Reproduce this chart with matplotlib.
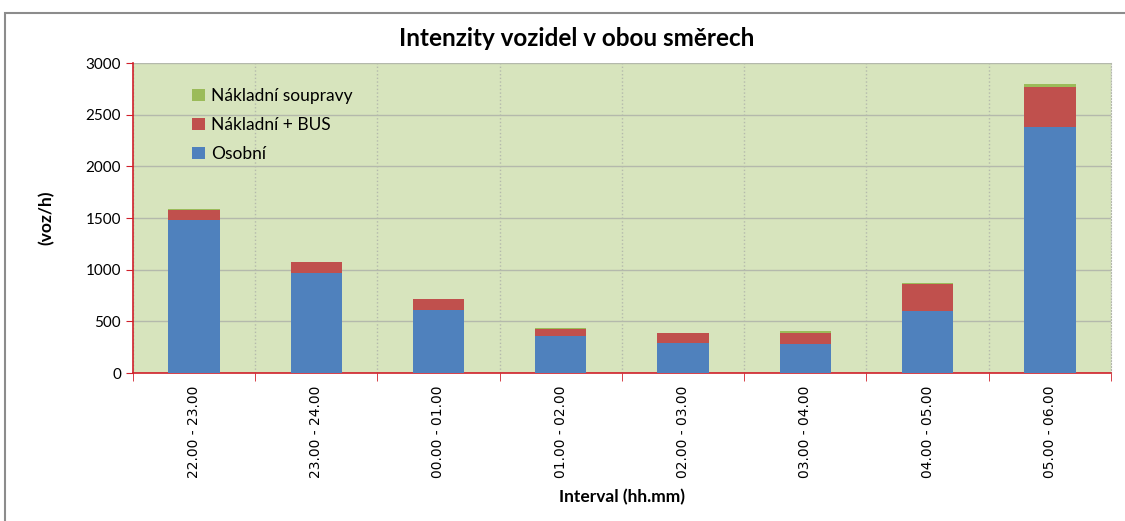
import matplotlib.pyplot as plt
import numpy as np
from matplotlib.patches import Rectangle

# data
intervaly = ['22.00 - 23.00', '23.00 - 24.00', '00.00 - 01.00', '01.00 - 02.00',
             '02.00 - 03.00', '03.00 - 04.00', '04.00 - 05.00', '05.00 - 06.00']
osobni = [1480, 968, 610, 361, 287, 278, 600, 2384]
nakladni_bus = [95, 106, 106, 65, 97, 106, 258, 381]
soupravy = [8, 5, 5, 7, 5, 19, 13, 32]

c_osobni = '#4F81BD'
c_bus = '#C0504D'
c_soupravy = '#9BBB59'
c_osa = '#D0202A'
c_mrizka = '#B4B9AC'

plt.rcParams['font.family'] = ['Lato', 'DejaVu Sans']

fig = plt.figure(figsize=(11.25, 5.21), dpi=100)
ax = fig.add_axes([0.118, 0.284, 0.8696, 0.595])
ax.set_facecolor('#D7E4BD')

x = np.arange(len(intervaly))
w = 0.42
b1 = ax.bar(x, osobni, w, color=c_osobni, label='Osobní', zorder=3)
b2 = ax.bar(x, nakladni_bus, w, bottom=osobni, color=c_bus, label='Nákladní + BUS', zorder=3)
spodek = np.array(osobni) + np.array(nakladni_bus)
b3 = ax.bar(x, soupravy, w, bottom=spodek, color=c_soupravy, label='Nákladní soupravy', zorder=3)

ax.set_xlim(-0.5, len(intervaly) - 0.5)
ax.set_ylim(0, 3000)
ax.set_yticks(range(0, 3001, 500))
ax.tick_params(axis='y', labelsize=11, color=c_osa, length=5)

# popisky kategorii a tiky na hranicich
ax.set_xticks(x)
ax.set_xticklabels(intervaly, rotation=90, fontsize=10, family='DejaVu Sans')
ax.tick_params(axis='x', length=0, pad=9)
ax.set_xticks(np.arange(-0.5, len(intervaly)), minor=True)
ax.tick_params(axis='x', which='minor', length=6, color=c_osa)

ax.grid(axis='y', color=c_mrizka, linewidth=1, zorder=1)
ax.grid(axis='x', which='minor', color=c_mrizka, linestyle=':', linewidth=1, zorder=1)
ax.grid(axis='x', which='major', visible=False)

for s in ['left', 'bottom']:
    ax.spines[s].set_color(c_osa)
    ax.spines[s].set_linewidth(1.2)
ax.spines['top'].set_visible(False)
ax.spines['right'].set_color(c_mrizka)
ax.spines['right'].set_linestyle(':')

ax.set_ylabel('(voz/h)', fontsize=12.5, fontweight='bold', labelpad=22)
ax.set_xlabel('Interval (hh.mm)', fontsize=12.5, fontweight='bold', labelpad=8)

ax.legend(handles=[b3, b2, b1], loc='upper left', bbox_to_anchor=(0.045, 0.97),
          frameon=False, fontsize=12.5, handlelength=0.7, handleheight=0.7,
          handletextpad=0.4, labelspacing=0.75)

fig.text(0.513, 0.927, 'Intenzity vozidel v obou směrech', ha='center', va='center',
         fontsize=17.5, fontweight='bold')

# ramecek grafu
fig.patches.append(Rectangle((0.004, -0.05), 1.2, 0.05 + 0.975, transform=fig.transFigure,
                             fill=False, edgecolor='#8C8C8C', linewidth=1.5))

fig.savefig('out.png', dpi=100)
